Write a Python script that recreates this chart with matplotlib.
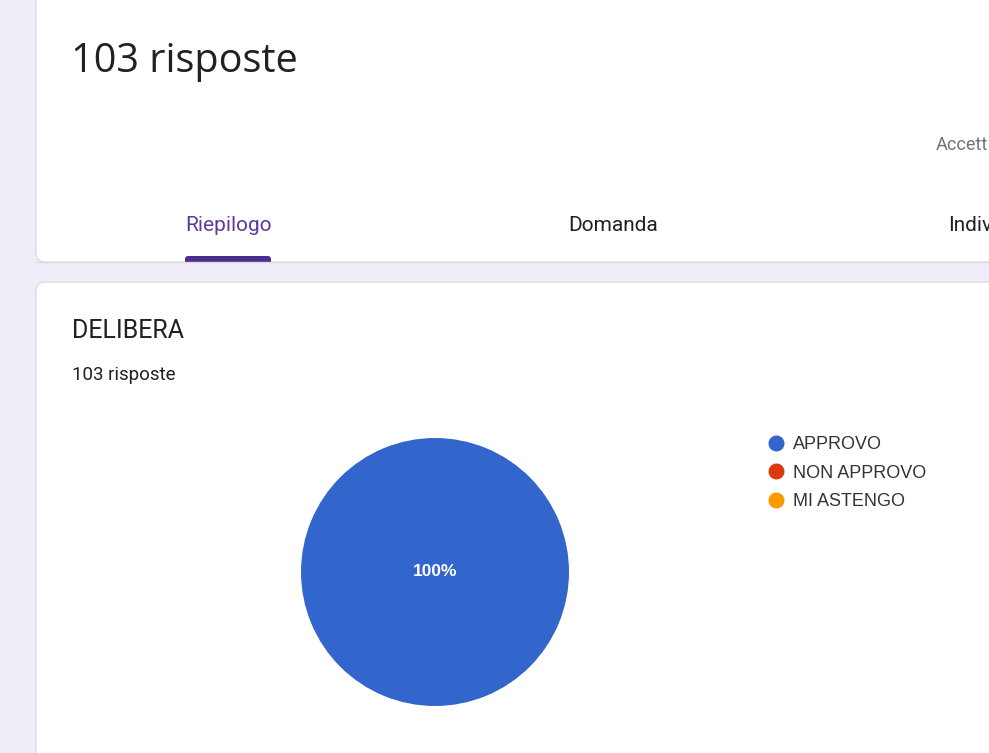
import matplotlib.pyplot as plt
from matplotlib.patches import FancyBboxPatch
from matplotlib.lines import Line2D

# data
categories = ["APPROVO", "NON APPROVO", "MI ASTENGO"]
counts = [103, 0, 0]
colors = ["#3366cc", "#dc3912", "#ff9900"]
total_label = "103 risposte"
question = "DELIBERA"
tabs = ["Riepilogo", "Domanda", "Indiv"]

W, H = 989, 753
fig = plt.figure(figsize=(W / 100, H / 100), dpi=100)
fig.patch.set_facecolor("#f0edf8")

# page background in pixel coordinates
bg = fig.add_axes([0, 0, 1, 1])
bg.set_xlim(0, W)
bg.set_ylim(H, 0)
bg.axis("off")

for y0, y1 in [(-30, 262), (282, 790)]:
    card = FancyBboxPatch((36, y0), 1000, y1 - y0,
                          boxstyle="round,pad=0,rounding_size=9",
                          facecolor="white", edgecolor="#dadce0", linewidth=1)
    bg.add_patch(card)

bg.text(71, 62, total_label, fontsize=28.5, family="Open Sans",
        color="#202124", va="center", ha="left")
bg.text(936, 145, "Accett", fontsize=13, family="Roboto",
        color="#70757a", va="center", ha="left")

bg.text(229, 225, tabs[0], fontsize=15, family="Roboto", color="#5c3b9c",
        va="center", ha="center")
bg.text(613, 225, tabs[1], fontsize=15, family="Roboto", color="#202124",
        va="center", ha="center")
bg.text(948, 225, tabs[2], fontsize=15, family="Roboto", color="#202124",
        va="center", ha="left")
underline = FancyBboxPatch((185, 256), 86, 8,
                           boxstyle="round,pad=0,rounding_size=3",
                           facecolor="#4b2c8c", edgecolor="none")
bg.add_patch(underline)
bg.add_patch(plt.Rectangle((36, 262), 1000, 6, facecolor="#f0edf8",
                           edgecolor="none"))
bg.plot([36, 1000], [262, 262], color="#dadce0", lw=1)

bg.text(72, 331, question, fontsize=18, family="Roboto", color="#202124",
        va="center", ha="left")
bg.text(72, 375, total_label, fontsize=13.5, family="Roboto", color="#202124",
        va="center", ha="left")

# pie
r = 134
cx, cy = 435, 572
ax = fig.add_axes([(cx - r) / W, (H - cy - r) / H, 2 * r / W, 2 * r / H])
wedges, _, autotexts = ax.pie(
    counts, colors=colors, startangle=90, counterclock=False,
    autopct=lambda p: f"{p:.0f}%" if p > 0 else "",
    pctdistance=0, wedgeprops=dict(linewidth=0),
    textprops=dict(color="white", fontsize=12.5, fontweight="bold",
                   family="Liberation Sans"))
ax.set_xlim(-1, 1)
ax.set_ylim(-1, 1)
ax.set_aspect("equal")

handles = [Line2D([], [], marker="o", linestyle="none", markersize=10.5,
                  markerfacecolor=c, markeredgecolor=c) for c in colors]
fig.legend(handles, categories, loc="upper left",
           bbox_to_anchor=(767 / W, 1 - 436 / H), frameon=False,
           prop=dict(family="Liberation Sans", size=13), labelcolor="#333333",
           handletextpad=0.45, labelspacing=0.64, handlelength=1.0,
           borderaxespad=0, borderpad=0)

fig.savefig("out.png", dpi=100, facecolor=fig.get_facecolor())
